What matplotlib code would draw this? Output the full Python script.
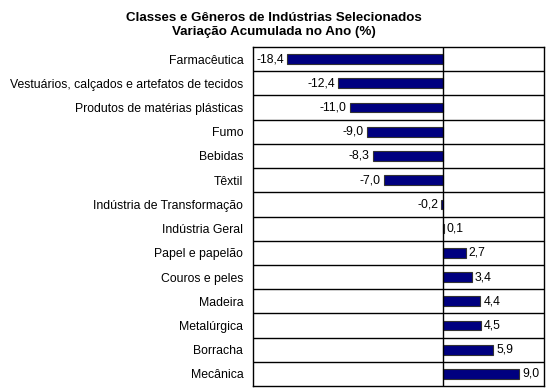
import matplotlib
matplotlib.use("Agg")
import matplotlib.pyplot as plt
import numpy as np

categories = ["Farmacêutica", "Vestuários, calçados e artefatos de tecidos",
              "Produtos de matérias plásticas", "Fumo", "Bebidas", "Têxtil",
              "Indústria de Transformação", "Indústria Geral", "Papel e papelão",
              "Couros e peles", "Madeira", "Metalúrgica", "Borracha", "Mecânica"]
values = [-18.4, -12.4, -11.0, -9.0, -8.3, -7.0, -0.2, 0.1, 2.7, 3.4, 4.4, 4.5, 5.9, 9.0]
labels = ["-18,4", "-12,4", "-11,0", "-9,0", "-8,3", "-7,0", "-0,2", "0,1",
          "2,7", "3,4", "4,4", "4,5", "5,9", "9,0"]

plt.rcParams['font.family'] = ['Liberation Sans', 'DejaVu Sans']

fig = plt.figure(figsize=(5.5, 3.91), dpi=100)
ax = fig.add_axes([253/550, 1-386/391, (544-253)/550, (386-47)/391])

n = len(categories)
y = np.arange(n)
ax.barh(y, values, height=0.4, color="#000080", edgecolor="#333333", linewidth=0.8, zorder=3)
ax.set_ylim(n - 0.5, -0.5)
ax.set_xlim(-22.4, 11.9)
ax.axvline(0, color="black", linewidth=1, zorder=4)
for b in np.arange(n - 1) + 0.5:
    ax.axhline(b, color="black", linewidth=1, zorder=1)

for yi, v, lab in zip(y, values, labels):
    if v < 0:
        ax.text(v - 0.35, yi, lab, ha="right", va="center", fontsize=8.8)
    else:
        ax.text(v + 0.35, yi, lab, ha="left", va="center", fontsize=8.8)

ax.set_yticks(y)
ax.set_yticklabels(categories, fontsize=8.8)
ax.tick_params(axis="y", length=0, pad=7)
ax.set_xticks([])
for s in ax.spines.values():
    s.set_linewidth(1)
    s.set_color("black")

fig.text(274/550, 1-25/391, "Classes e Gêneros de Indústrias Selecionados\nVariação Acumulada no Ano (%)",
         ha="center", va="center", fontsize=9.6, fontweight="bold", linespacing=1.2)

fig.savefig("out.png", dpi=100)
